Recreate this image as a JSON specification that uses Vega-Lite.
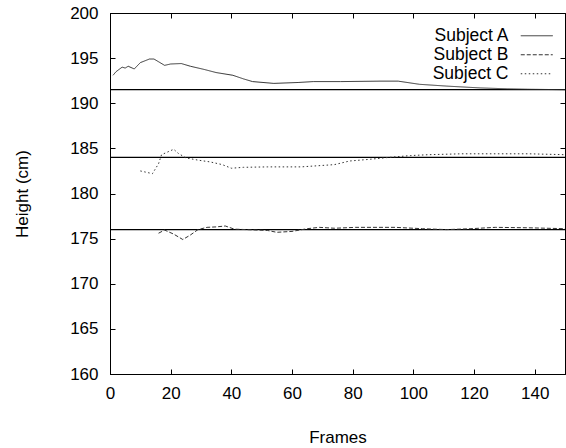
{
  "$schema": "https://vega.github.io/schema/vega-lite/v6.json",
  "width": 455,
  "height": 361,
  "autosize": {"type": "none"},
  "padding": {"left": 110, "top": 13, "right": 1, "bottom": 74},
  "background": "white",
  "config": {
    "view": {"stroke": "black", "strokeWidth": 1},
    "font": "Liberation Sans",
    "axis": {
      "domainColor": "black",
      "tickColor": "black",
      "labelColor": "black",
      "titleColor": "black",
      "labelFont": "Liberation Sans",
      "titleFont": "Liberation Sans",
      "labelFontSize": 17,
      "titleFontSize": 17,
      "titleFontWeight": "normal",
      "grid": false,
      "tickSize": -5,
      "labelFlush": false
    },
    "legend": {
      "labelFont": "Liberation Sans",
      "labelFontSize": 17.5,
      "labelColor": "black"
    }
  },
  "datasets": {
    "series": [
      {"frame": 1, "height": 193.1, "subject": "Subject A"},
      {"frame": 2, "height": 193.5, "subject": "Subject A"},
      {"frame": 4, "height": 194.0, "subject": "Subject A"},
      {"frame": 5, "height": 193.9, "subject": "Subject A"},
      {"frame": 6, "height": 194.1, "subject": "Subject A"},
      {"frame": 8, "height": 193.8, "subject": "Subject A"},
      {"frame": 10, "height": 194.5, "subject": "Subject A"},
      {"frame": 11.5, "height": 194.7, "subject": "Subject A"},
      {"frame": 13, "height": 194.9, "subject": "Subject A"},
      {"frame": 14.5, "height": 194.9, "subject": "Subject A"},
      {"frame": 16, "height": 194.6, "subject": "Subject A"},
      {"frame": 18, "height": 194.2, "subject": "Subject A"},
      {"frame": 20, "height": 194.35, "subject": "Subject A"},
      {"frame": 23.5, "height": 194.4, "subject": "Subject A"},
      {"frame": 26.5, "height": 194.1, "subject": "Subject A"},
      {"frame": 31, "height": 193.75, "subject": "Subject A"},
      {"frame": 35, "height": 193.4, "subject": "Subject A"},
      {"frame": 40.5, "height": 193.1, "subject": "Subject A"},
      {"frame": 44, "height": 192.7, "subject": "Subject A"},
      {"frame": 47, "height": 192.4, "subject": "Subject A"},
      {"frame": 54, "height": 192.2, "subject": "Subject A"},
      {"frame": 62, "height": 192.3, "subject": "Subject A"},
      {"frame": 67, "height": 192.4, "subject": "Subject A"},
      {"frame": 76, "height": 192.4, "subject": "Subject A"},
      {"frame": 89, "height": 192.45, "subject": "Subject A"},
      {"frame": 95, "height": 192.45, "subject": "Subject A"},
      {"frame": 102, "height": 192.1, "subject": "Subject A"},
      {"frame": 111, "height": 191.9, "subject": "Subject A"},
      {"frame": 122, "height": 191.7, "subject": "Subject A"},
      {"frame": 131, "height": 191.6, "subject": "Subject A"},
      {"frame": 138, "height": 191.55, "subject": "Subject A"},
      {"frame": 150, "height": 191.5, "subject": "Subject A"},

      {"frame": 16, "height": 175.6, "subject": "Subject B"},
      {"frame": 18, "height": 175.95, "subject": "Subject B"},
      {"frame": 21, "height": 175.5, "subject": "Subject B"},
      {"frame": 24, "height": 174.9, "subject": "Subject B"},
      {"frame": 26.5, "height": 175.4, "subject": "Subject B"},
      {"frame": 29, "height": 176.0, "subject": "Subject B"},
      {"frame": 32, "height": 176.25, "subject": "Subject B"},
      {"frame": 35, "height": 176.3, "subject": "Subject B"},
      {"frame": 38, "height": 176.4, "subject": "Subject B"},
      {"frame": 41, "height": 176.05, "subject": "Subject B"},
      {"frame": 45, "height": 176.0, "subject": "Subject B"},
      {"frame": 52, "height": 175.9, "subject": "Subject B"},
      {"frame": 55, "height": 175.7, "subject": "Subject B"},
      {"frame": 60, "height": 175.8, "subject": "Subject B"},
      {"frame": 65, "height": 176.1, "subject": "Subject B"},
      {"frame": 69, "height": 176.25, "subject": "Subject B"},
      {"frame": 74, "height": 176.15, "subject": "Subject B"},
      {"frame": 81, "height": 176.25, "subject": "Subject B"},
      {"frame": 94, "height": 176.25, "subject": "Subject B"},
      {"frame": 103, "height": 176.1, "subject": "Subject B"},
      {"frame": 111, "height": 176.0, "subject": "Subject B"},
      {"frame": 119, "height": 176.1, "subject": "Subject B"},
      {"frame": 127, "height": 176.25, "subject": "Subject B"},
      {"frame": 138, "height": 176.2, "subject": "Subject B"},
      {"frame": 150, "height": 176.1, "subject": "Subject B"},

      {"frame": 10, "height": 182.5, "subject": "Subject C"},
      {"frame": 12, "height": 182.35, "subject": "Subject C"},
      {"frame": 14, "height": 182.2, "subject": "Subject C"},
      {"frame": 16, "height": 183.3, "subject": "Subject C"},
      {"frame": 17, "height": 184.3, "subject": "Subject C"},
      {"frame": 19, "height": 184.6, "subject": "Subject C"},
      {"frame": 21, "height": 184.9, "subject": "Subject C"},
      {"frame": 22.5, "height": 184.45, "subject": "Subject C"},
      {"frame": 25, "height": 183.95, "subject": "Subject C"},
      {"frame": 29, "height": 183.7, "subject": "Subject C"},
      {"frame": 33, "height": 183.5, "subject": "Subject C"},
      {"frame": 37, "height": 183.2, "subject": "Subject C"},
      {"frame": 40, "height": 182.8, "subject": "Subject C"},
      {"frame": 44, "height": 182.9, "subject": "Subject C"},
      {"frame": 52, "height": 182.95, "subject": "Subject C"},
      {"frame": 63, "height": 182.95, "subject": "Subject C"},
      {"frame": 74, "height": 183.2, "subject": "Subject C"},
      {"frame": 79, "height": 183.6, "subject": "Subject C"},
      {"frame": 86, "height": 183.8, "subject": "Subject C"},
      {"frame": 92, "height": 184.0, "subject": "Subject C"},
      {"frame": 99, "height": 184.2, "subject": "Subject C"},
      {"frame": 105, "height": 184.3, "subject": "Subject C"},
      {"frame": 116, "height": 184.4, "subject": "Subject C"},
      {"frame": 127, "height": 184.4, "subject": "Subject C"},
      {"frame": 138, "height": 184.4, "subject": "Subject C"},
      {"frame": 150, "height": 184.3, "subject": "Subject C"}
    ],
    "refs": [
      {"ref": 191.5},
      {"ref": 184},
      {"ref": 176}
    ]
  },
  "layer": [
    {
      "data": {"name": "refs"},
      "mark": {"type": "rule", "color": "black", "strokeWidth": 1.2},
      "encoding": {
        "y": {"field": "ref", "type": "quantitative", "scale": {"domain": [160, 200]}, "axis": null}
      }
    },
    {
      "data": {"name": "series"},
      "mark": {"type": "line", "color": "#333333", "strokeWidth": 1},
      "encoding": {
        "x": {"field": "frame", "type": "quantitative", "scale": {"domain": [0, 150], "nice": false},
              "axis": {"title": "Frames", "values": [0,20,40,60,80,100,120,140], "labelPadding": 16, "titlePadding": 28}},
        "y": {"field": "height", "type": "quantitative", "scale": {"domain": [160, 200]},
              "axis": {"title": "Height (cm)", "orient": "left", "values": [160,165,170,175,180,185,190,195,200], "labelPadding": 17, "titlePadding": 38}},
        "strokeDash": {"field": "subject", "type": "nominal",
          "scale": {"domain": ["Subject A", "Subject B", "Subject C"], "range": [[1, 0], [4, 2], [1.5, 2.5]]},
          "legend": {"title": null, "orient": "none", "legendX": 418, "legendY": 14, "symbolType": "M-2,0H2", "symbolSize": 256, "symbolFillColor": "transparent", "symbolStrokeColor": "#333333", "symbolStrokeWidth": 1, "rowPadding": 0, "labelAlign": "right", "labelOffset": -37}}
      }
    },
    {
      "data": {"name": "refs"},
      "mark": {"type": "rule", "opacity": 0},
      "encoding": {
        "x": {"datum": 0, "type": "quantitative", "scale": {"domain": [0, 150], "nice": false},
              "axis": {"orient": "top", "labels": false, "title": null, "values": [0,20,40,60,80,100,120,140]}},
        "y": {"field": "ref", "type": "quantitative", "scale": {"domain": [160, 200]},
              "axis": {"orient": "right", "labels": false, "title": null, "values": [160,165,170,175,180,185,190,195,200]}}
      }
    }
  ],
  "resolve": {"axis": {"x": "independent", "y": "independent"}}
}
